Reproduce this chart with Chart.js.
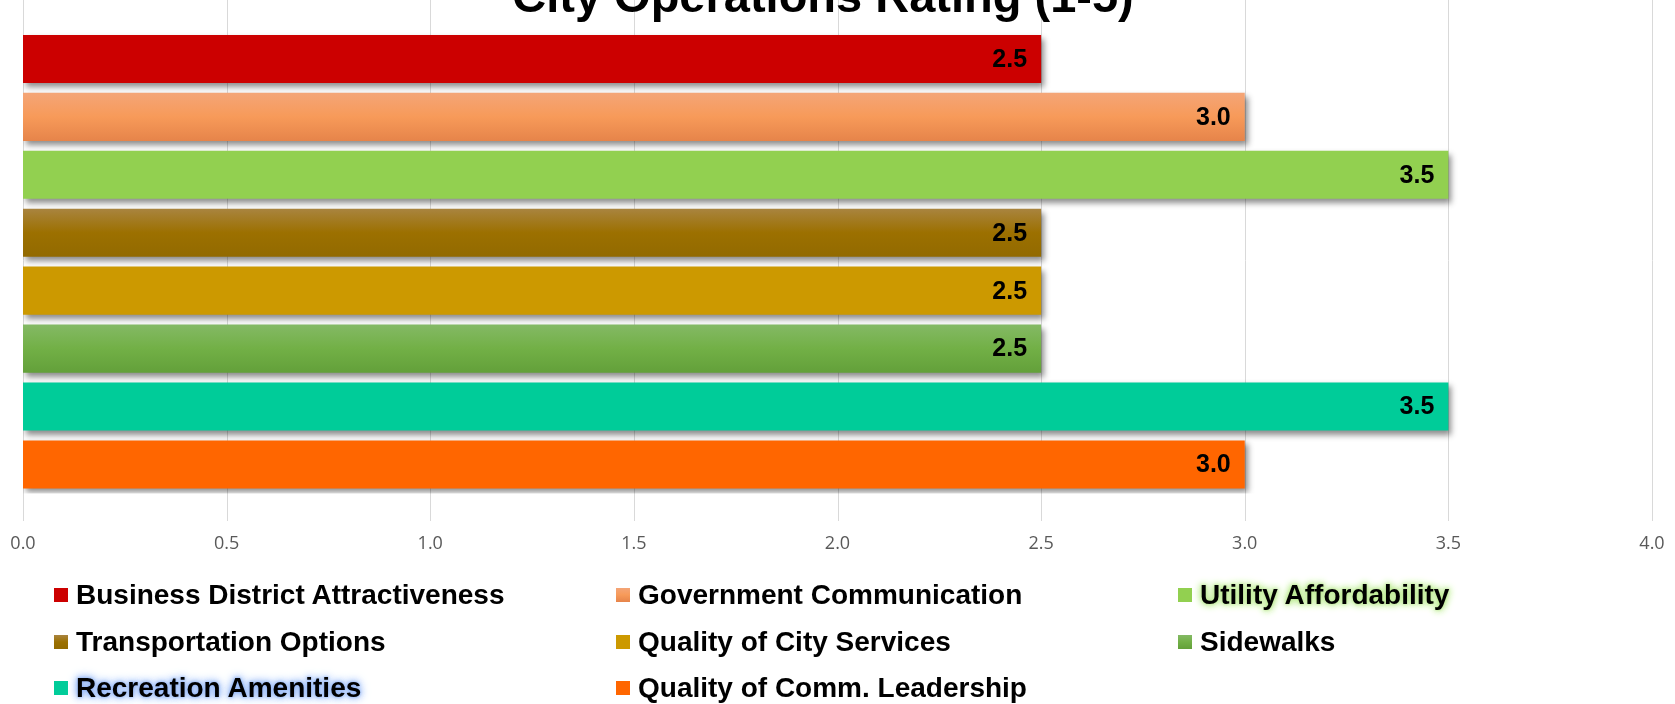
<!DOCTYPE html>
<html>
<head>
<meta charset="utf-8">
<title>City Operations Rating</title>
<script src="https://cdn.jsdelivr.net/npm/chart.js@4/dist/chart.umd.min.js"></script>
<style>
  html, body { margin: 0; padding: 0; background: #fff; }
  #wrap { position: relative; width: 1675px; height: 704px; }
  #legend {
    position: absolute; left: 54px; top: 572px;
    display: grid; grid-template-columns: 562px 562px 562px; grid-auto-rows: 46.5px;
    font-family: "Liberation Sans", Arial, sans-serif; font-weight: bold; font-size: 28px; color: #000;
  }
  .item { display: flex; align-items: center; white-space: nowrap; }
  .swatch { width: 14px; height: 14px; margin-right: 8px; flex: none; }
  .glow-green { text-shadow: 0 0 3px #b9e88e, 0 0 6px #b9e88e, 0 0 8px #c6efa0, 0 0 10px #c6efa0; }
  .glow-blue { text-shadow: 0 0 3px #86abf2, 0 0 6px #9dbcf6, 0 0 9px #a6c4f8, 0 0 12px #a6c4f8; }
</style>
</head>
<body>
<div id="wrap">
  <canvas id="chart" width="1675" height="704"></canvas>
  <div id="legend"></div>
</div>
<script>
const chartTitle = 'City Operations Rating (1-5)';
const categories = [
  'Business District Attractiveness',
  'Government Communication',
  'Utility Affordability',
  'Transportation Options',
  'Quality of City Services',
  'Sidewalks',
  'Recreation Amenities',
  'Quality of Comm. Leadership'
];
const ratings = [2.5, 3.0, 3.5, 2.5, 2.5, 2.5, 3.5, 3.0];
const xTicks = [0, 0.5, 1.0, 1.5, 2.0, 2.5, 3.0, 3.5, 4.0];

// solid colour, or [top, middle, bottom] for the shaded bars
const barFills = [
  '#CC0000',
  ['#F4A577', '#F79A59', '#E6844A'],
  '#92D050',
  ['#A9843F', '#9C7000', '#926A00'],
  '#CC9900',
  ['#84B965', '#72B046', '#63A03A'],
  '#00CC99',
  '#FF6600'
];
const legendGlow = ['', '', 'glow-green', '', '', '', 'glow-blue', ''];

function solid(f) { return Array.isArray(f) ? f[1] : f; }

// legend (html, built from the same arrays)
const legendEl = document.getElementById('legend');
categories.forEach((name, i) => {
  const item = document.createElement('div');
  item.className = 'item';
  const sw = document.createElement('span');
  sw.className = 'swatch';
  sw.style.background = Array.isArray(barFills[i])
    ? 'linear-gradient(' + barFills[i].join(',') + ')' : barFills[i];
  const txt = document.createElement('span');
  txt.textContent = name;
  if (legendGlow[i]) txt.className = legendGlow[i];
  item.appendChild(sw);
  item.appendChild(txt);
  legendEl.appendChild(item);
});

const gridAndFills = {
  id: 'gridAndFills',
  beforeDatasetsDraw(chart) {
    const ctx = chart.ctx;
    const x = chart.scales.x;
    // vertical gridlines run past the bar area, like the original
    ctx.save();
    ctx.strokeStyle = '#D9D9D9';
    ctx.lineWidth = 1;
    xTicks.forEach(v => {
      const px = Math.round(x.getPixelForValue(v)) + 0.5;
      ctx.beginPath();
      ctx.moveTo(px, 0);
      ctx.lineTo(px, 521);
      ctx.stroke();
    });
    ctx.restore();
    // vertical gradients for the shaded bars
    const meta = chart.getDatasetMeta(0);
    meta.data.forEach((bar, i) => {
      const f = barFills[i];
      if (!Array.isArray(f)) return;
      const top = bar.y - bar.height / 2, bottom = bar.y + bar.height / 2;
      const g = ctx.createLinearGradient(0, top, 0, bottom);
      g.addColorStop(0, f[0]);
      g.addColorStop(0.5, f[1]);
      g.addColorStop(1, f[2]);
      bar.options.backgroundColor = g;
    });
  },
  beforeDatasetDraw(chart) {
    const ctx = chart.ctx;
    ctx.save();
    ctx.shadowColor = 'rgba(0,0,0,0.45)';
    ctx.shadowBlur = 6;
    ctx.shadowOffsetX = 3;
    ctx.shadowOffsetY = 4;
  },
  afterDatasetDraw(chart) {
    chart.ctx.restore();
  },
  afterDatasetsDraw(chart) {
    const ctx = chart.ctx;
    const meta = chart.getDatasetMeta(0);
    ctx.save();
    ctx.font = 'bold 25px "Liberation Sans", Arial, sans-serif';
    ctx.fillStyle = '#000';
    ctx.textAlign = 'right';
    ctx.textBaseline = 'middle';
    meta.data.forEach((bar, i) => {
      ctx.fillText(ratings[i].toFixed(1), bar.x - 14, bar.y + 1);
    });
    // title, partly cut off at the top edge
    ctx.font = 'bold 47px "Liberation Sans", Arial, sans-serif';
    ctx.textAlign = 'center';
    ctx.textBaseline = 'alphabetic';
    ctx.fillText(chartTitle, 823, 12);
    ctx.restore();
  }
};

new Chart(document.getElementById('chart'), {
  type: 'bar',
  data: {
    labels: categories,
    datasets: [{
      data: ratings,
      backgroundColor: barFills.map(solid),
      borderWidth: 0,
      categoryPercentage: 1,
      barPercentage: 0.83
    }]
  },
  options: {
    indexAxis: 'y',
    responsive: false,
    animation: false,
    layout: { padding: { left: 23, right: 23, top: 30, bottom: 149 } },
    plugins: {
      legend: { display: false },
      tooltip: { enabled: false },
      title: { display: false }
    },
    scales: {
      y: { display: false },
      x: {
        min: 0,
        max: 4,
        afterBuildTicks: axis => { axis.ticks = xTicks.map(v => ({ value: v })); },
        grid: { display: false, drawTicks: true, tickLength: 40 },
        border: { display: false },
        ticks: {
          padding: 0,
          color: '#595959',
          font: { family: '"Open Sans", sans-serif', size: 18 },
          callback: v => Number(v).toFixed(1)
        }
      }
    }
  },
  plugins: [gridAndFills]
});
</script>
</body>
</html>
